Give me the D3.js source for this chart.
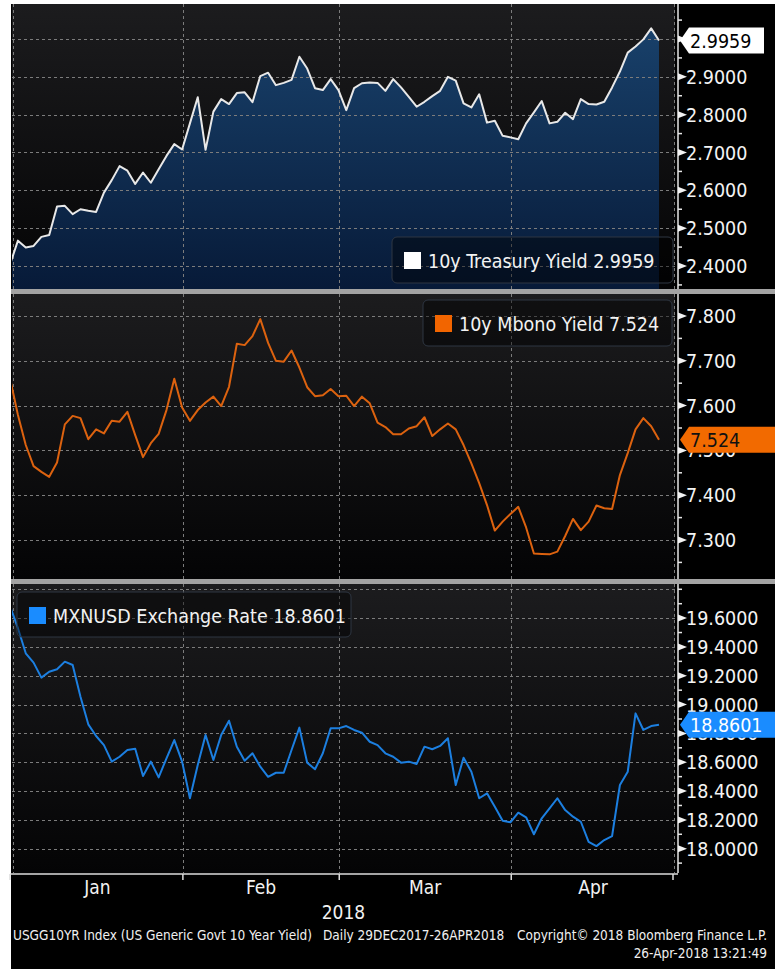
<!DOCTYPE html>
<html>
<head>
<meta charset="utf-8">
<script src="https://cdn.jsdelivr.net/npm/d3@7"></script>
<style>
  body { margin: 0; background: #fff; }
  svg { display: block; }
  text { font-family: "DejaVu Sans Condensed", "DejaVu Sans", sans-serif; font-stretch: condensed; }
</style>
</head>
<body>
<div id="chart"></div>
<script>
// ---- data (one value per weekday 29 Dec 2017 - 26 Apr 2018)
var firstDay = new Date(Date.UTC(2017, 11, 29));
var lastDay = new Date(Date.UTC(2018, 3, 26));

var treasury = [
  2.405, 2.405, 2.467, 2.449, 2.453, 2.477, 2.482, 2.557, 2.559, 2.537,
  2.550, 2.546, 2.543, 2.594, 2.627, 2.664, 2.652, 2.617, 2.647, 2.620,
  2.656, 2.691, 2.722, 2.708, 2.777, 2.846, 2.707, 2.808, 2.841, 2.828,
  2.857, 2.859, 2.833, 2.902, 2.911, 2.878, 2.884, 2.892, 2.953, 2.922,
  2.870, 2.865, 2.894, 2.865, 2.812, 2.870, 2.883, 2.885, 2.884, 2.863,
  2.894, 2.872, 2.847, 2.821, 2.834, 2.849, 2.863, 2.900, 2.890, 2.830,
  2.819, 2.854, 2.779, 2.784, 2.744, 2.740, 2.735, 2.777, 2.806, 2.836,
  2.777, 2.781, 2.805, 2.788, 2.841, 2.828, 2.827, 2.834, 2.872, 2.914,
  2.964, 2.980, 2.999, 3.028, 2.9959
];
var mbono = [
  7.650, 7.660, 7.579, 7.512, 7.465, 7.452, 7.441, 7.473, 7.558, 7.577,
  7.572, 7.525, 7.547, 7.538, 7.566, 7.564, 7.586, 7.534, 7.485, 7.516,
  7.537, 7.590, 7.660, 7.596, 7.566, 7.590, 7.607, 7.620, 7.599, 7.642,
  7.738, 7.735, 7.755, 7.793, 7.740, 7.700, 7.698, 7.723, 7.685, 7.641,
  7.621, 7.623, 7.637, 7.621, 7.622, 7.599, 7.620, 7.605, 7.562, 7.552,
  7.536, 7.536, 7.549, 7.554, 7.574, 7.532, 7.547, 7.560, 7.547, 7.512,
  7.471, 7.427, 7.378, 7.321, 7.341, 7.358, 7.374, 7.328, 7.270, 7.269,
  7.268, 7.274, 7.309, 7.347, 7.322, 7.341, 7.377, 7.371, 7.369, 7.445,
  7.494, 7.547, 7.572, 7.554, 7.524
];
var mxn = [
  19.660, 19.680, 19.530, 19.356, 19.291, 19.187, 19.228, 19.245, 19.298, 19.275,
  19.055, 18.863, 18.782, 18.719, 18.604, 18.638, 18.685, 18.694, 18.504, 18.604,
  18.495, 18.627, 18.754, 18.604, 18.350, 18.581, 18.789, 18.615, 18.789, 18.888,
  18.708, 18.611, 18.662, 18.569, 18.499, 18.527, 18.527, 18.685, 18.840, 18.597,
  18.551, 18.662, 18.835, 18.835, 18.851, 18.824, 18.805, 18.742, 18.719, 18.662,
  18.638, 18.597, 18.604, 18.588, 18.708, 18.690, 18.713, 18.766, 18.442, 18.631,
  18.534, 18.350, 18.384, 18.291, 18.194, 18.183, 18.250, 18.218, 18.100, 18.211,
  18.280, 18.350, 18.268, 18.222, 18.187, 18.048, 18.018, 18.060, 18.088, 18.442,
  18.534, 18.939, 18.824, 18.851, 18.8601
];

var treasuryTicks = [2.4, 2.5, 2.6, 2.7, 2.8, 2.9, 3.0];
var mbonoTicks = [7.3, 7.4, 7.5, 7.6, 7.7, 7.8];
var mxnTicks = [18.0, 18.2, 18.4, 18.6, 18.8, 19.0, 19.2, 19.4, 19.6, 19.8];
var monthNames = ["Jan", "Feb", "Mar", "Apr"];
var yearLabel = "2018";
var footerLeft = "USGG10YR Index (US Generic Govt 10 Year Yield)";
var footerMid = "Daily 29DEC2017-26APR2018";
var footerRight = "Copyright\u00a9 2018 Bloomberg Finance L.P.";
var footerStamp = "26-Apr-2018 13:21:49";

// ---- layout
var W = 775, H = 969;
var plotL = 12, plotR = 675, axisX = 678;

var svg = d3.select("#chart").append("svg")
  .attr("width", W).attr("height", H);
var defs = svg.append("defs");

// weekdays as x categories
var days = d3.utcDay.range(firstDay, d3.utcDay.offset(lastDay, 1))
  .filter(d => d.getUTCDay() !== 0 && d.getUTCDay() !== 6);

var x = d3.scaleLinear().domain([0, days.length - 1]).range([2.3, 659]);

// month boundaries: just after the last weekday of each month
var bounds = [];
days.forEach((d, i) => {
  if (i < days.length - 1 && days[i + 1].getUTCMonth() !== d.getUTCMonth()) bounds.push(i + 0.1);
});
var boundX = bounds.map(b => x(b)).filter(v => v > plotL + 2);

// black canvas
svg.append("rect").attr("x", 11).attr("y", 4).attr("width", W - 11).attr("height", H - 4).attr("fill", "#000");

// gradients
var bg = defs.append("linearGradient").attr("id", "bg").attr("x1", 0).attr("y1", 0).attr("x2", 0).attr("y2", 1);
bg.append("stop").attr("offset", "0%").attr("stop-color", "#1c1c1e");
bg.append("stop").attr("offset", "100%").attr("stop-color", "#040405");
var ag = defs.append("linearGradient").attr("id", "areaFill").attr("gradientUnits", "userSpaceOnUse")
  .attr("x1", 0).attr("y1", 4).attr("x2", 0).attr("y2", 289);
ag.append("stop").attr("offset", "0%").attr("stop-color", "#1a446f");
ag.append("stop").attr("offset", "100%").attr("stop-color", "#071a38");

var panels = [
  { id: "tsy", values: treasury, ticks: treasuryTicks, fmt: d3.format(".4f"), top: 4, bottom: 289,
    range: [266, 39], minor: 0.05, color: "#e8e8e8", area: true,
    name: "10y Treasury Yield", swatch: "#ffffff", legend: [392, 237, 281, 46],
    callFill: "#ffffff", callText: "#000", callEnd: 764 },
  { id: "mbono", values: mbono, ticks: mbonoTicks, fmt: d3.format(".3f"), top: 294, bottom: 579,
    range: [540, 316], minor: 0.05, color: "#dc620f", area: false,
    name: "10y Mbono Yield", swatch: "#f26500", legend: [423, 300, 249, 46],
    callFill: "#f26a00", callText: "#111", callEnd: 775 },
  { id: "mxn", values: mxn, ticks: mxnTicks, fmt: d3.format(".4f"), top: 584, bottom: 873,
    range: [848.7, 589.3], minor: 0.1, color: "#1c7fe0", area: false,
    name: "MXNUSD Exchange Rate", swatch: "#1a8cff", legend: [17, 592, 334, 45],
    callFill: "#1a8cff", callText: "#fff", callEnd: 775 }
];

panels.forEach(p => {
  var y = d3.scaleLinear().domain([p.ticks[0], p.ticks[p.ticks.length - 1]]).range(p.range);
  var g = svg.append("g").attr("id", p.id);
  var last = p.values[p.values.length - 1];
  var cy = y(last);

  defs.append("clipPath").attr("id", "clip-" + p.id)
    .append("rect").attr("x", plotL).attr("y", p.top).attr("width", plotR - plotL).attr("height", p.bottom - p.top);

  g.append("rect").attr("x", plotL).attr("y", p.top)
    .attr("width", plotR - plotL).attr("height", p.bottom - p.top)
    .attr("fill", "url(#bg)");

  var plot = g.append("g").attr("clip-path", "url(#clip-" + p.id + ")");

  if (p.area) {
    plot.append("path").datum(p.values)
      .attr("fill", "url(#areaFill)")
      .attr("d", d3.area().x((d, i) => x(i)).y0(p.bottom).y1(d => y(d)));
  }

  // dashed grid
  var grid = plot.append("g").attr("stroke", "#7c7c7c").attr("stroke-width", 1).attr("stroke-dasharray", "3,3");
  grid.selectAll("line.h").data(p.ticks).enter().append("line")
    .attr("x1", plotL).attr("x2", plotR)
    .attr("y1", d => Math.round(y(d)) + 0.5).attr("y2", d => Math.round(y(d)) + 0.5);
  grid.selectAll("line.v").data(boundX.concat([plotL + 0.5, plotR - 1])).enter().append("line")
    .attr("y1", p.top).attr("y2", p.bottom)
    .attr("x1", d => Math.round(d) + 0.5).attr("x2", d => Math.round(d) + 0.5);

  plot.append("path").datum(p.values)
    .attr("fill", "none").attr("stroke", p.color).attr("stroke-width", 2)
    .attr("stroke-linejoin", "round")
    .attr("d", d3.line().x((d, i) => x(i)).y(d => y(d)));

  // legend
  var lg = g.append("g");
  lg.append("rect").attr("x", p.legend[0]).attr("y", p.legend[1])
    .attr("width", p.legend[2]).attr("height", p.legend[3]).attr("rx", 5)
    .attr("fill", "rgba(0,0,0,0.42)").attr("stroke", "#2e3642").attr("stroke-width", 1);
  lg.append("rect").attr("x", p.legend[0] + 12).attr("y", p.legend[1] + 15)
    .attr("width", 17).attr("height", 17).attr("fill", p.swatch);
  lg.append("text").attr("x", p.legend[0] + 36).attr("y", p.legend[1] + 31)
    .attr("fill", "#f2f2f2").attr("font-size", 19.5)
    .text(p.name + " " + p.fmt(last).replace(/0+$/, "").replace(/\.$/, ""));

  // right axis
  var ax = g.append("g");
  ax.append("line").attr("x1", axisX).attr("x2", axisX).attr("y1", p.top).attr("y2", p.bottom)
    .attr("stroke", "#e6e6e6").attr("stroke-width", 1.5);
  var lo = y.invert(p.bottom), hi = y.invert(p.top);
  var minors = d3.range(Math.ceil(lo / p.minor - 1e-6), Math.floor(hi / p.minor + 1e-6) + 1).map(k => k * p.minor);
  ax.selectAll("line.minor").data(minors).enter().append("line")
    .attr("x1", axisX).attr("x2", axisX + 4)
    .attr("y1", d => y(d)).attr("y2", d => y(d))
    .attr("stroke", "#e6e6e6").attr("stroke-width", 1.5);
  var majors = p.ticks.filter(t => y(t) > p.top + 10 && y(t) < p.bottom - 5);
  ax.selectAll("path.major").data(majors).enter().append("path")
    .attr("fill", "#f2f2f2")
    .attr("d", d => "M" + axisX + "," + (y(d) - 3.5) + "L" + (axisX + 9) + "," + y(d) + "L" + axisX + "," + (y(d) + 3.5) + "Z");
  // labels sitting right under the last-value callout are hidden, as on the screen
  ax.selectAll("text").data(majors.filter(t => Math.abs(y(t) - cy) > 5)).enter().append("text")
    .attr("x", 686).attr("y", d => y(d) + 7)
    .attr("fill", "#f4f4f4").attr("font-size", 19.5)
    .text(d => p.fmt(d));

  // last value callout
  var call = g.append("g");
  call.append("path").attr("fill", p.callFill)
    .attr("d", "M680," + cy + "L689," + (cy - 13) + "L" + p.callEnd + "," + (cy - 13) +
      "L" + p.callEnd + "," + (cy + 13) + "L689," + (cy + 13) + "Z");
  call.append("text").attr("x", 690).attr("y", cy + 7)
    .attr("fill", p.callText).attr("font-size", 19.5)
    .text(p.fmt(last));
});

// separators between panels
[289, 579].forEach(v => {
  svg.append("rect").attr("x", 11).attr("y", v).attr("width", W - 11).attr("height", 5).attr("fill", "#a3a3a3");
});

// bottom time axis
var xa = svg.append("g");
xa.append("line").attr("x1", 10).attr("x2", axisX).attr("y1", 874).attr("y2", 874)
  .attr("stroke", "#dcdcdc").attr("stroke-width", 1.5);
xa.selectAll("line.t").data([10].concat(boundX, [plotR - 2])).enter().append("line")
  .attr("x1", d => d).attr("x2", d => d).attr("y1", 874).attr("y2", 880)
  .attr("stroke", "#dcdcdc").attr("stroke-width", 1.5);
var edges = [plotL].concat(boundX, [plotR]);
xa.selectAll("text.m").data(monthNames).enter().append("text")
  .attr("x", (d, i) => (edges[i] + edges[i + 1]) / 2).attr("y", 894)
  .attr("text-anchor", "middle").attr("fill", "#f2f2f2").attr("font-size", 19)
  .text(d => d);
xa.append("text").attr("x", (plotL + plotR) / 2).attr("y", 919)
  .attr("text-anchor", "middle").attr("fill", "#f2f2f2").attr("font-size", 19)
  .text(yearLabel);

// footer
var ft = svg.append("g").attr("fill", "#f0f0f0").attr("font-size", 13.5);
ft.append("text").attr("x", 13).attr("y", 940).text(footerLeft);
ft.append("text").attr("x", 323).attr("y", 940).text(footerMid);
ft.append("text").attr("x", 767).attr("y", 940).attr("text-anchor", "end").text(footerRight);
ft.append("text").attr("x", 767).attr("y", 958).attr("text-anchor", "end").text(footerStamp);
</script>
</body>
</html>
